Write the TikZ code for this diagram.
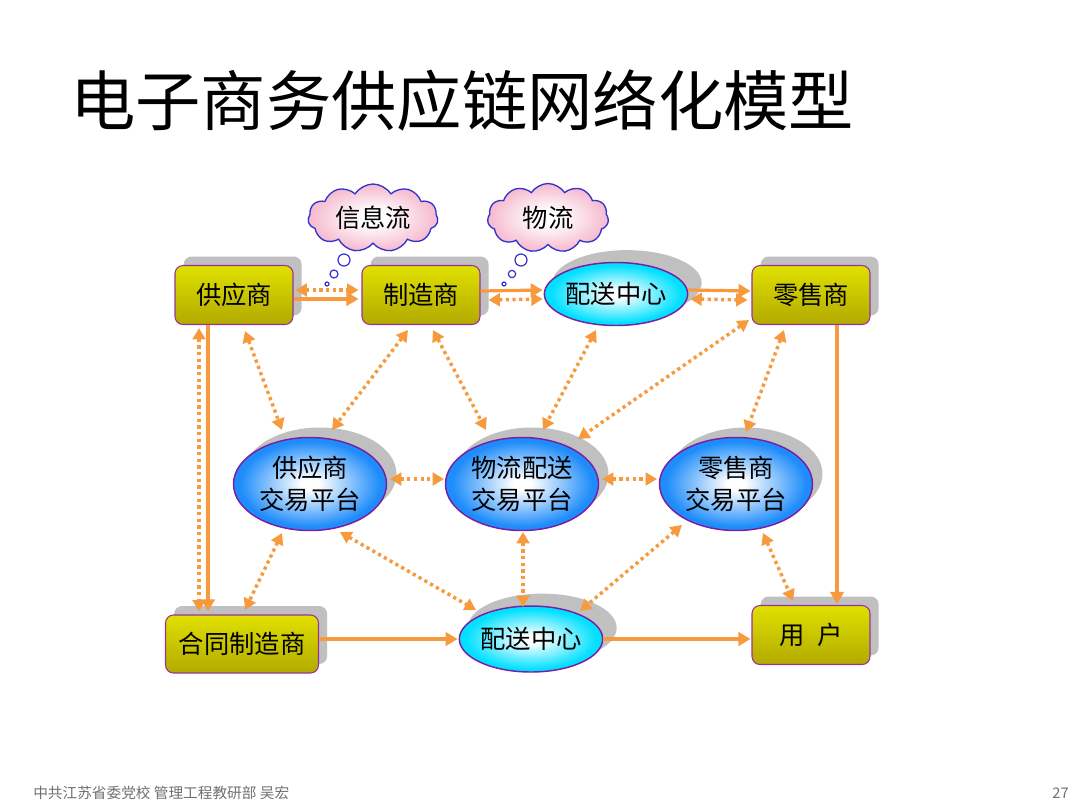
\documentclass[tikz,border=0pt]{standalone}
\usepackage{fontspec}
\setmainfont{Noto Sans CJK SC}
\usetikzlibrary{shapes.geometric,shapes.symbols,arrows.meta,calc,shadows}
\definecolor{arr}{HTML}{F79A3E}
\definecolor{boxedge}{HTML}{993399}
\definecolor{elledge}{HTML}{7A1FA2}
\definecolor{shad}{HTML}{C0C0C0}
\definecolor{boxtop}{HTML}{E0E000}
\definecolor{boxmid}{HTML}{FCFC08}
\definecolor{boxbot}{HTML}{B2AA00}
\definecolor{platblue}{HTML}{1E8CFA}
\definecolor{dccyan}{HTML}{00E0FF}
\definecolor{cloudpink}{HTML}{F6BCCF}
\definecolor{cloudblue}{HTML}{3333CC}
\definecolor{footgray}{HTML}{707070}
\pgfdeclareradialshading{platshade}{\pgfpoint{0bp}{0bp}}{color(0bp)=(white); color(3bp)=(white); color(23bp)=(platblue); color(25bp)=(platblue); color(50bp)=(platblue)}
\pgfdeclareradialshading{dcshade}{\pgfpoint{0bp}{0bp}}{color(0bp)=(white); color(3bp)=(white); color(23bp)=(dccyan); color(25bp)=(dccyan); color(50bp)=(dccyan)}
\pgfdeclareradialshading{cloudshade}{\pgfpoint{0bp}{0bp}}{color(0bp)=(white); color(5bp)=(white); color(24bp)=(cloudpink); color(50bp)=(cloudpink)}
\tikzset{
  lbl/.style={font=\fontsize{19}{24}\selectfont, align=center, text=black},
  boxnode/.style={lbl, rectangle, rounded corners=6pt, draw=boxedge, line width=0.8pt,
    top color=boxtop, middle color=boxmid, bottom color=boxbot,
    minimum width=88.5pt, minimum height=44.25pt, inner sep=0pt,
    copy shadow={shadow xshift=6.5pt, shadow yshift=6.75pt, fill=shad, draw=none}},
  platnode/.style={lbl, ellipse, draw=elledge, line width=1.1pt, shading=platshade,
    minimum width=114.75pt, minimum height=69.75pt, inner sep=0pt,
    copy shadow={shadow xshift=7.5pt, shadow yshift=7.5pt, fill=shad, draw=none}},
  dcnode/.style={lbl, ellipse, draw=elledge, line width=1.1pt, shading=dcshade,
    minimum width=100pt, minimum height=47.25pt, inner sep=0pt,
    copy shadow={shadow xshift=8pt, shadow yshift=8pt, shadow scale=1.04, fill=shad, draw=none}},
  cloudnode/.style={lbl, cloud, cloud puffs=11, cloud puff arc=115, cloud ignores aspect,
    draw=cloudblue, line width=1pt, shading=cloudshade, inner sep=0pt},
  bubble/.style={circle, draw=cloudblue, fill=white, line width=0.9pt, inner sep=0pt},
  solidarr/.style={draw=arr, line width=2.4pt, -{Triangle[length=9pt,width=10pt]}},
  dotarr/.style={draw=arr, line width=2.6pt, dash pattern=on 2.4pt off 2.6pt,
    {Triangle[length=8.5pt,width=9.5pt]}-{Triangle[length=8.5pt,width=9.5pt]}},
}
\begin{document}
\begin{tikzpicture}[x=0.75pt,y=-0.75pt]
\useasboundingbox (0,0) rectangle (1080,810);
\fill[white] (0,0) rectangle (1080,810);

% title and footer
\node[anchor=west, inner sep=0pt, font=\fontsize{49}{52}\selectfont] (title) at (70,100) {电子商务供应链网络化模型};
\node[anchor=west, inner sep=0pt, text=footgray, font=\fontsize{11}{13}\selectfont] (foot) at (33,793) {中共江苏省委党校 管理工程教研部 吴宏};
\node[anchor=east, inner sep=0pt, text=footgray, font=\fontsize{11}{13}\selectfont] (page) at (1069,793) {27};

% clouds
\node[cloudnode, minimum width=97.5pt, minimum height=51pt] (cl1) at (373,218) {信息流};
\node[cloudnode, minimum width=90.75pt, minimum height=51.75pt] (cl2) at (548,218) {物流};
\node[bubble, minimum size=9pt] (b11) at (344,260) {};
\node[bubble, minimum size=6pt] (b12) at (334,274) {};
\node[bubble, minimum size=3pt] (b13) at (327,284) {};
\node[bubble, minimum size=9pt] (b21) at (521,260) {};
\node[bubble, minimum size=5.5pt] (b22) at (512,274) {};
\node[bubble, minimum size=3pt] (b23) at (504,284) {};

% nodes
\node[boxnode] (sup) at (234,295) {供应商};
\node[boxnode] (mfg) at (421,295) {制造商};
\node[dcnode] (dc1) at (616,294) {配送中心};
\node[boxnode] (ret) at (811,295) {零售商};
\node[platnode] (pt1) at (310,484) {供应商\\交易平台};
\node[platnode] (pt2) at (522,484) {物流配送\\交易平台};
\node[platnode] (pt3) at (736,484) {零售商\\交易平台};
\node[boxnode, minimum width=114.75pt, minimum height=43.5pt] (cm) at (242,644) {合同制造商};
\node[dcnode, minimum width=102pt, minimum height=49.5pt] (dc2) at (531,639) {配送中心};
\node[boxnode] (usr) at (811,635) {用\hspace{0.5em}户};

% top row
\draw[solidarr] ($(sup.east)+(0,4)$) -- ($(mfg.west)+(-3,4)$);
\draw[dotarr] ($(sup.east)+(2,-5)$) -- ($(mfg.west)+(-3,-5)$);
\draw[solidarr] ($(mfg.east)+(0,-4)$) -- ($(dc1.west)+(-1,-4)$);
\draw[dotarr] ($(mfg.east)+(8,5)$) -- ($(dc1.west)+(-1,5)$);
\draw[solidarr] ($(dc1.east)+(0,-4)$) -- ($(ret.west)+(-1,-4)$);
\draw[dotarr] ($(dc1.east)+(2,5)$) -- ($(ret.west)+(-4,5)$);

% verticals
\draw[solidarr] ($(sup.south)+(-26,0)$) -- ($(cm.north)+(-34,-3)$);
\draw[dotarr] ($(sup.south)+(-35,3)$) -- ($(cm.north)+(-43,-3)$);
\draw[solidarr] ($(ret.south)+(26,0)$) -- ($(usr.north)+(26,-1)$);

% diagonals
\draw[dotarr] ($(sup)+(11,36)$) -- ($(pt1)+(-28,-54)$);
\draw[dotarr] ($(mfg)+(-13,35)$) -- ($(pt1)+(22,-54)$);
\draw[dotarr] ($(mfg)+(12,35)$) -- ($(pt2)+(-36,-54)$);
\draw[dotarr] ($(dc1)+(-20,36)$) -- ($(pt2)+(21,-54)$);
\draw[dotarr] ($(ret)+(-62,25)$) -- ($(pt2)+(56,-45)$);
\draw[dotarr] ($(ret)+(-27,35)$) -- ($(pt3)+(10,-52)$);
\draw[dotarr] ($(pt1)+(80,-5)$) -- ($(pt2)+(-78,-5)$);
\draw[dotarr] ($(pt2)+(80,-5)$) -- ($(pt3)+(-79,-5)$);
\draw[dotarr] ($(pt1)+(-28,49)$) -- ($(cm)+(3,-34)$);
\draw[dotarr] ($(pt1)+(30,48)$) -- ($(dc2)+(-55,-29)$);
\draw[dotarr] ($(pt2)+(1,48)$) -- ($(dc2)+(-8,-32)$);
\draw[dotarr] ($(pt3)+(-54,41)$) -- ($(dc2)+(49,-28)$);
\draw[dotarr] ($(pt3)+(27,49)$) -- ($(usr)+(-18,-34)$);

% bottom row
\draw[solidarr] ($(cm.east)+(0,-5)$) -- ($(dc2.west)+(-1,0)$);
\draw[solidarr] ($(dc2.east)+(0,0)$) -- ($(usr.west)+(-1,4)$);
\end{tikzpicture}
\end{document}
